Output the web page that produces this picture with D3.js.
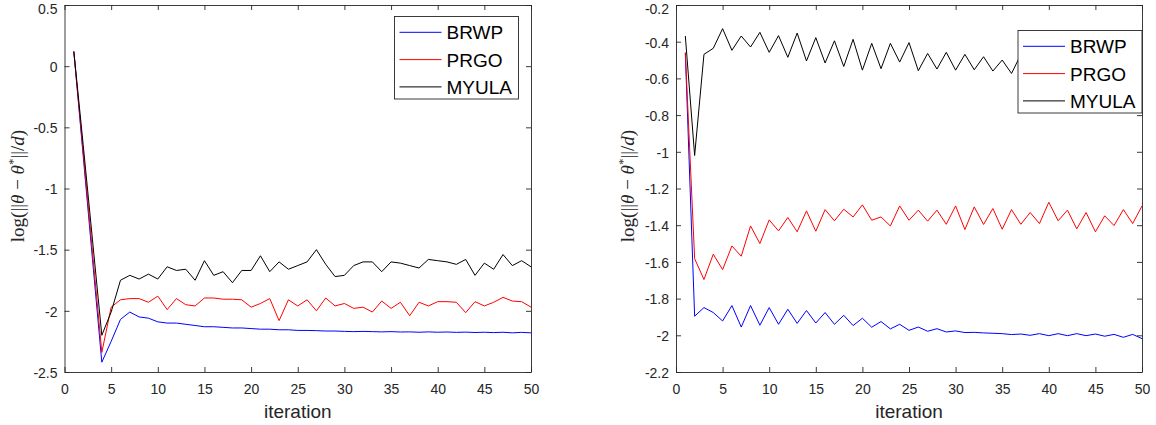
<!DOCTYPE html>
<html>
<head>
<meta charset="utf-8">
<script src="https://cdn.jsdelivr.net/npm/d3@7"></script>
<style>
  body { margin: 0; background: #fff; }
  svg { display: block; }
</style>
</head>
<body>
<div id="chart"></div>
<script>
let width = 1156;
let height = 425;

// data
var iterations = d3.range(1, 51);
var seriesNames = ["BRWP", "PRGO", "MYULA"];
var seriesColors = ["#0000ff", "#ff0000", "#000000"];
var xTicks = [0, 5, 10, 15, 20, 25, 30, 35, 40, 45, 50];
var leftYTicks = [0.5, 0, -0.5, -1, -1.5, -2, -2.5];
var rightYTicks = [-0.2, -0.4, -0.6, -0.8, -1, -1.2, -1.4, -1.6, -1.8, -2, -2.2];

var leftBRWP = [0.12, -0.73, -1.58, -2.42, -2.25, -2.07, -2.01, -2.05, -2.06, -2.09,
  -2.10, -2.10, -2.11, -2.12, -2.13, -2.13, -2.135, -2.14, -2.14, -2.145,
  -2.15, -2.15, -2.155, -2.155, -2.16, -2.16, -2.162, -2.165, -2.165, -2.168,
  -2.17, -2.168, -2.17, -2.172, -2.17, -2.173, -2.172, -2.175, -2.172, -2.175,
  -2.173, -2.176, -2.174, -2.177, -2.175, -2.178, -2.175, -2.18, -2.176, -2.18];
var leftPRGO = [0.12, -0.70, -1.52, -2.34, -1.97, -1.91, -1.90, -1.90, -1.93, -1.88,
  -1.99, -1.90, -1.95, -1.96, -1.895, -1.895, -1.905, -1.905, -1.91, -1.97,
  -1.94, -1.90, -2.08, -1.91, -1.96, -1.91, -2.00, -1.895, -1.96, -1.94,
  -1.98, -1.97, -2.01, -1.92, -1.98, -1.93, -2.04, -1.93, -1.96, -1.925,
  -1.925, -1.93, -2.015, -1.925, -1.96, -1.93, -1.89, -1.92, -1.925, -1.97];
var leftMYULA = [0.12, -0.64, -1.42, -2.20, -2.01, -1.75, -1.71, -1.74, -1.70, -1.74,
  -1.64, -1.67, -1.66, -1.75, -1.59, -1.71, -1.68, -1.77, -1.67, -1.67,
  -1.55, -1.68, -1.60, -1.66, -1.63, -1.60, -1.50, -1.62, -1.72, -1.71,
  -1.63, -1.60, -1.60, -1.68, -1.60, -1.61, -1.63, -1.65, -1.58, -1.59,
  -1.60, -1.62, -1.58, -1.71, -1.61, -1.66, -1.54, -1.63, -1.59, -1.64];

var rightBRWP = [-0.46, -1.896, -1.849, -1.876, -1.922, -1.838, -1.955, -1.838, -1.945, -1.849,
  -1.940, -1.858, -1.935, -1.865, -1.933, -1.876, -1.940, -1.891, -1.947, -1.907,
  -1.956, -1.925, -1.965, -1.940, -1.973, -1.955, -1.978, -1.964, -1.982, -1.976,
  -1.985, -1.984, -1.987, -1.989, -1.991, -1.996, -1.993, -2.000, -1.991, -2.002,
  -1.991, -2.002, -1.991, -2.002, -1.993, -2.005, -1.995, -2.011, -1.995, -2.018];
var rightPRGO = [-0.46, -1.582, -1.696, -1.558, -1.642, -1.513, -1.569, -1.404, -1.500, -1.371,
  -1.431, -1.358, -1.436, -1.322, -1.433, -1.315, -1.376, -1.313, -1.355, -1.289,
  -1.373, -1.355, -1.404, -1.295, -1.373, -1.318, -1.378, -1.318, -1.395, -1.295,
  -1.424, -1.300, -1.396, -1.309, -1.422, -1.315, -1.395, -1.331, -1.391, -1.275,
  -1.376, -1.318, -1.420, -1.331, -1.436, -1.349, -1.402, -1.315, -1.391, -1.295];
var rightMYULA = [-0.369, -1.020, -0.469, -0.436, -0.329, -0.447, -0.369, -0.429, -0.349, -0.458,
  -0.367, -0.485, -0.353, -0.505, -0.378, -0.516, -0.395, -0.535, -0.387, -0.555,
  -0.409, -0.547, -0.409, -0.511, -0.405, -0.558, -0.464, -0.549, -0.458, -0.555,
  -0.469, -0.553, -0.482, -0.560, -0.500, -0.573, -0.47, -0.56, -0.46, -0.55,
  -0.47, -0.56, -0.45, -0.55, -0.46, -0.57, -0.47, -0.55, -0.46, -0.56];

var sansFont = "'Liberation Sans', Arial, Helvetica, sans-serif";
var serifFont = "'Liberation Serif', 'Times New Roman', serif";
var axisColor = "#262626";

let svg = d3.select('#chart')
  .append('svg')
  .attr('width', width)
  .attr('height', height);

var fmt = function(d) {
  return String(+d.toFixed(1));
};

var drawPanel = function(opts) {
  let x = d3.scaleLinear().domain([0, 50]).range([opts.left, opts.right]);
  let y = d3.scaleLinear().domain(opts.yDomain).range([372, 5]);

  let g = svg.append('g');

  // axes, ticks inward on all four sides
  let bottom = g.append('g')
    .attr('transform', 'translate(0,372)')
    .call(d3.axisBottom(x).tickValues(xTicks).tickSize(-5).tickSizeOuter(0).tickFormat(fmt));
  bottom.selectAll('text').attr('y', 12);

  g.append('g')
    .attr('transform', 'translate(0,5)')
    .call(d3.axisTop(x).tickValues(xTicks).tickSize(-5).tickSizeOuter(0).tickFormat(''));

  let leftAxis = g.append('g')
    .attr('transform', 'translate(' + opts.left + ',0)')
    .call(d3.axisLeft(y).tickValues(opts.yTicks).tickSize(-5).tickSizeOuter(0).tickPadding(7).tickFormat(fmt));
  leftAxis.selectAll('text')
    .attr('dy', '0.38em')
    .attr('y', (d) => d === opts.yDomain[1] ? 3 : 0);   // keep the top label inside the page

  g.append('g')
    .attr('transform', 'translate(' + opts.right + ',0)')
    .call(d3.axisRight(y).tickValues(opts.yTicks).tickSize(-5).tickSizeOuter(0).tickFormat(''));

  g.selectAll('.domain, .tick line').attr('stroke', axisColor).attr('stroke-width', 0.9);
  g.selectAll('.tick text')
    .attr('fill', axisColor)
    .style('font-family', sansFont)
    .style('font-size', '14px');

  // lines
  let line = d3.line()
    .x((d, i) => x(iterations[i]))
    .y((d) => y(d));

  let clipId = 'clip' + opts.left;
  g.append('clipPath').attr('id', clipId)
    .append('rect')
    .attr('x', opts.left).attr('y', 5)
    .attr('width', opts.right - opts.left).attr('height', 367);

  g.append('g')
    .attr('clip-path', 'url(#' + clipId + ')')
    .selectAll('path')
    .data(opts.series)
    .enter()
    .append('path')
    .attr('d', (d) => line(d))
    .attr('fill', 'none')
    .attr('stroke', (d, i) => seriesColors[i])
    .attr('stroke-width', 1);

  // x label
  g.append('text')
    .attr('x', (opts.left + opts.right) / 2)
    .attr('y', 418)
    .attr('text-anchor', 'middle')
    .attr('fill', axisColor)
    .style('font-family', sansFont)
    .style('font-size', '19px')
    .text('iteration');

  // y label  log(||θ − θ*||/d)
  let yl = g.append('text')
    .attr('transform', 'translate(' + opts.labelX + ',186) rotate(-90)')
    .attr('text-anchor', 'middle')
    .attr('fill', axisColor)
    .style('font-family', serifFont)
    .style('font-size', '19px');
  yl.append('tspan').text('log(||');
  yl.append('tspan').style('font-style', 'italic').text('θ');
  yl.append('tspan').text(' − ');
  yl.append('tspan').style('font-style', 'italic').text('θ');
  yl.append('tspan').attr('dy', -7).style('font-size', '13px').text('*');
  yl.append('tspan').attr('dy', 7).text('||/');
  yl.append('tspan').style('font-style', 'italic').text('d');
  yl.append('tspan').text(')');

  // legend
  let lg = g.append('g').attr('transform', 'translate(' + opts.legendX + ',' + opts.legendY + ')');
  lg.append('rect')
    .attr('width', 124).attr('height', 82.5)
    .attr('fill', '#fff')
    .attr('stroke', axisColor)
    .attr('stroke-width', 0.9);
  let items = lg.selectAll('g.item')
    .data(seriesNames)
    .enter()
    .append('g')
    .attr('transform', (d, i) => 'translate(0,' + (15.8 + i * 27.3) + ')');
  items.append('line')
    .attr('x1', 5).attr('x2', 47)
    .attr('stroke', (d, i) => seriesColors[i])
    .attr('stroke-width', 1);
  items.append('text')
    .attr('x', 52).attr('y', 7)
    .attr('fill', '#000')
    .style('font-family', sansFont)
    .style('font-size', '19px')
    .text((d) => d);
};

drawPanel({
  left: 64.5, right: 531, yDomain: [-2.5, 0.5], yTicks: leftYTicks,
  series: [leftBRWP, leftPRGO, leftMYULA],
  labelX: 24, legendX: 394.5, legendY: 16.5
});

drawPanel({
  left: 676, right: 1142, yDomain: [-2.2, -0.2], yTicks: rightYTicks,
  series: [rightBRWP, rightPRGO, rightMYULA],
  labelX: 634, legendX: 1018, legendY: 30.5
});
</script>
</body>
</html>
